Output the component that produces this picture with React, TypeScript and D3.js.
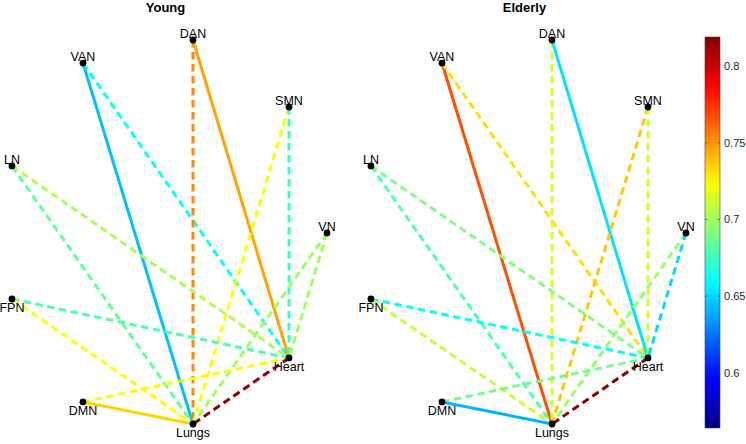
import React from "react";
import * as d3 from "d3";

// node layout (arbitrary units, same in both panels)
const nodeNames = ["DAN", "VAN", "SMN", "LN", "VN", "FPN", "Heart", "DMN", "Lungs"];
const nodeX = [0, -0.573, 0.5, -0.943, 0.698, -0.943, 0.5, -0.573, 0];
const nodeY = [1, 0.88, 0.651, 0.344, -0.005, -0.349, -0.656, -0.885, -1];

// edges
const edgeSource = ["VAN", "VAN", "DAN", "DAN", "SMN", "SMN", "LN", "LN", "VN", "VN", "FPN", "FPN", "DMN", "DMN", "Heart"];
const edgeTarget = ["Lungs", "Heart", "Lungs", "Heart", "Lungs", "Heart", "Lungs", "Heart", "Lungs", "Heart", "Heart", "Lungs", "Heart", "Lungs", "Lungs"];

const youngValues = [0.644, 0.662, 0.753, 0.746, 0.723, 0.672, 0.684, 0.702, 0.699, 0.7, 0.679, 0.723, 0.722, 0.734, 0.815];
const youngSolid = [true, false, false, true, false, false, false, false, false, false, false, false, false, true, false];

const elderlyValues = [0.767, 0.731, 0.712, 0.653, 0.737, 0.711, 0.68, 0.692, 0.697, 0.651, 0.662, 0.709, 0.689, 0.641, 0.815];
const elderlySolid = [true, false, false, true, false, false, false, false, false, false, false, false, false, true, false];

const colorDomain = [0.564, 0.819];
const colorTicks = [0.6, 0.65, 0.7, 0.75, 0.8];

const W = 746;
const H = 444;
const FONT = "'Liberation Sans', Arial, Helvetica, sans-serif";

const clamp = (v: number) => Math.max(0, Math.min(1, v));
const jet = (t: number) => {
  const r = clamp(1.5 - Math.abs(4 * t - 3));
  const g = clamp(1.5 - Math.abs(4 * t - 2));
  const b = clamp(1.5 - Math.abs(4 * t - 1));
  return d3.rgb(r * 255, g * 255, b * 255).formatHex();
};

const color = d3
  .scaleSequential((t: number) => jet(t))
  .domain(colorDomain as [number, number]);

const yScale = d3.scaleLinear().domain([-1, 1]).range([424, 40]);

interface PanelProps {
  title: string;
  left: number;
  values: number[];
  solid: boolean[];
}

const Panel: React.FC<PanelProps> = ({ title, left, values, solid }) => {
  const x = d3.scaleLinear().domain([-1, 1]).range([left, left + 384]);
  const idx = (n: string) => nodeNames.indexOf(n);
  const titleX = (x(-0.943) + x(0.698)) / 2 - 4;

  return (
    <g>
      <text
        x={titleX}
        y={12}
        textAnchor="middle"
        fontFamily={FONT}
        fontWeight="bold"
        fontSize={13}
        fill="#000"
      >
        {title}
      </text>
      {values.map((v, i) => {
        const s = idx(edgeSource[i]);
        const t = idx(edgeTarget[i]);
        return (
          <line
            key={i}
            x1={x(nodeX[s])}
            y1={yScale(nodeY[s])}
            x2={x(nodeX[t])}
            y2={yScale(nodeY[t])}
            stroke={color(v)}
            strokeWidth={3}
            strokeDasharray={solid[i] ? undefined : "7.5,4.5"}
          />
        );
      })}
      {nodeNames.map((n, i) => {
        const cx = x(nodeX[i]);
        const cy = yScale(nodeY[i]);
        const above = nodeY[i] > -0.1;
        return (
          <g key={n}>
            <circle cx={cx} cy={cy} r={3.4} fill="#000" />
            <text
              x={cx}
              y={above ? cy - 2 : cy + 13}
              textAnchor="middle"
              fontFamily={FONT}
              fontSize={12.5}
              fill="#000"
            >
              {n}
            </text>
          </g>
        );
      })}
    </g>
  );
};

const Colorbar: React.FC = () => {
  const x0 = 705;
  const w = 15;
  const cy = d3.scaleLinear().domain(colorDomain).range([428, 37]);
  const stops = d3.range(0, 1.0001, 0.02);
  return (
    <g>
      <defs>
        <linearGradient id="jetGrad" x1="0" y1="1" x2="0" y2="0">
          {stops.map((s) => (
            <stop key={s} offset={s} stopColor={jet(s)} />
          ))}
        </linearGradient>
      </defs>
      <rect
        x={x0}
        y={cy(colorDomain[1])}
        width={w}
        height={cy(colorDomain[0]) - cy(colorDomain[1])}
        fill="url(#jetGrad)"
        stroke="#444"
        strokeWidth={0.6}
      />
      {colorTicks.map((t) => (
        <g key={t}>
          <line x1={x0 + w - 2.5} x2={x0 + w} y1={cy(t)} y2={cy(t)} stroke="#333" strokeWidth={0.6} />
          <line x1={x0} x2={x0 + 2.5} y1={cy(t)} y2={cy(t)} stroke="#333" strokeWidth={0.6} />
          <text
            x={x0 + w + 4}
            y={cy(t)}
            dy="0.35em"
            fontFamily={FONT}
            fontSize={11}
            fill="#262626"
          >
            {d3.format("")(t)}
          </text>
        </g>
      ))}
    </g>
  );
};

export default function App() {
  return (
    <svg
      width={W}
      height={H}
      style={{ position: "absolute", left: 0, top: 0, background: "#fff" }}
    >
      <rect width={W} height={H} fill="#fff" />
      <Panel title="Young" left={1} values={youngValues} solid={youngSolid} />
      <Panel title="Elderly" left={360} values={elderlyValues} solid={elderlySolid} />
      <Colorbar />
    </svg>
  );
}
